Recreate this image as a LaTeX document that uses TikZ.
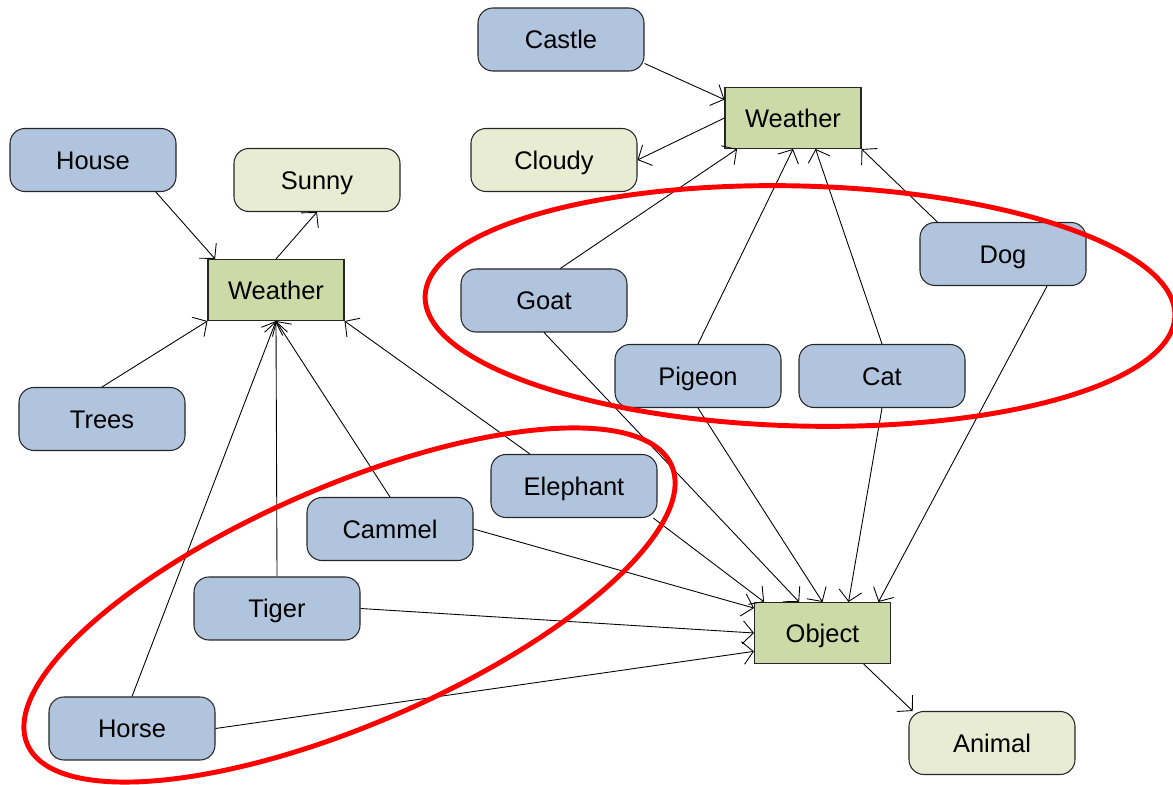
\documentclass[tikz,border=0pt]{standalone}
\usepackage{fontspec}
\setmainfont{Liberation Sans}
\usetikzlibrary{arrows.meta,shapes,positioning}
\definecolor{itemblue}{RGB}{176,196,222}
\definecolor{valuecream}{RGB}{232,236,210}
\definecolor{conceptgreen}{RGB}{204,218,168}

\begin{document}
\begin{tikzpicture}[
    box/.style={rectangle, draw=black!85, line width=0.6pt, inner sep=0pt, text height=10.4pt, text depth=0pt, font=\fontsize{14.5}{17}\selectfont},
    item/.style={box, rounded corners=8.5pt, fill=itemblue, minimum width=3.32cm, minimum height=1.26cm},
    value/.style={box, rounded corners=8.5pt, fill=valuecream, minimum width=3.32cm, minimum height=1.26cm},
    concept/.style={box, fill=conceptgreen, minimum width=2.72cm, minimum height=1.22cm},
    link/.style={-{Straight Barb[length=6pt,width=13pt]}, line width=0.5pt},
    group/.style={draw=red, line width=2.8pt}
]
\useasboundingbox (0,0) rectangle (23.46,15.7);

% Upper part
\node[item] (castle) at (11.22, 14.91) {Castle};
\node[concept] (wtop) at (15.86, 13.34) {Weather};
\node[value] (cloudy) at (11.08, 12.50) {Cloudy};
\node[item] (goat) at (10.88, 9.69) {Goat};
\node[item] (dog) at (20.06, 10.62) {Dog};
\node[item] (pigeon) at (13.96, 8.18) {Pigeon};
\node[item] (cat) at (17.64, 8.18) {Cat};

% Left part
\node[item] (house) at (1.86, 12.50) {House};
\node[value] (sunny) at (6.34, 12.10) {Sunny};
\node[concept] (wleft) at (5.52, 9.90) {Weather};
\node[item] (trees) at (2.04, 7.32) {Trees};
\node[item] (elephant) at (11.48, 5.98) {Elephant};
\node[item] (cammel) at (7.80, 5.12) {Cammel};
\node[item] (tiger) at (5.54, 3.53) {Tiger};
\node[item] (horse) at (2.64, 1.13) {Horse};

% Lower right
\node[concept] (object) at (16.45, 3.04) {Object};
\node[value] (animal) at (19.84, 0.84) {Animal};

% links around the upper Weather
\draw[link] (castle.-16) -- (wtop.165);
\draw[link] (wtop.west) -- (cloudy.east);
\draw[link] (goat.63) -- (wtop.209);
\draw[link] (pigeon.north) -- (wtop.south);
\draw[link] (cat.north) -- (wtop.-54);
\draw[link] (dog.154) -- (wtop.south east);

% links around the left Weather
\draw[link] (house.-27) -- (wleft.153);
\draw[link] (wleft.north) -- (sunny.south);
\draw[link] (trees.north) -- (wleft.south west);
\draw[link] (horse.north) -- (wleft.south);
\draw[link] (tiger.north) -- (wleft.south);
\draw[link] (cammel.north) -- (wleft.south);
\draw[link] (elephant.144) -- (wleft.south east);

% links into Object
\draw[link] (elephant.-22) -- (object.152);
\draw[link] (goat.south) -- (object.127);
\draw[link] (pigeon.south) -- (object.north);
\draw[link] (cat.south) -- (object.50);
\draw[link] (dog.-36) -- (object.29);
\draw[link] (cammel.east) -- (object.160);
\draw[link] (tiger.east) -- (object.west);
\draw[link] (horse.east) -- (object.195);
\draw[link] (object.-37) -- (animal.158);

% red groups
\draw[group, rotate around={-1.5:(16.0,9.58)}] (16.0,9.58) ellipse (7.5cm and 2.4cm);
\draw[group, rotate around={23.4:(6.99,3.60)}] (6.99,3.60) ellipse (7.02cm and 2.38cm);

\end{tikzpicture}
\end{document}
